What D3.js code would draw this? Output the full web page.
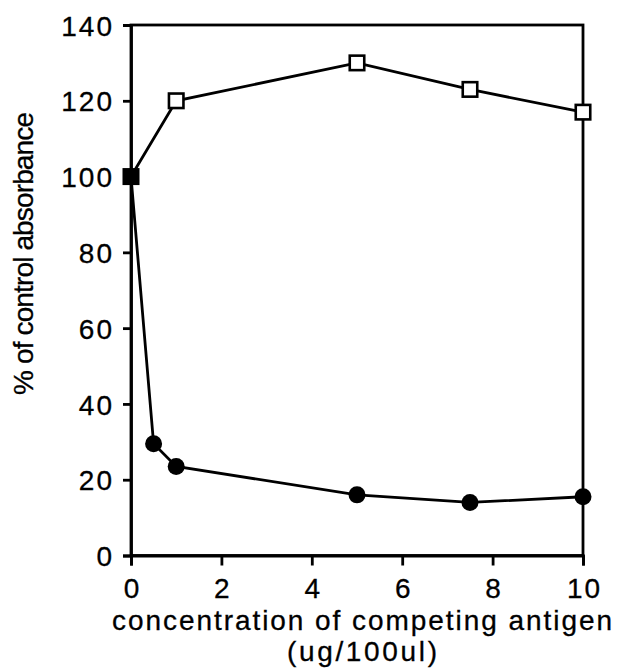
<!DOCTYPE html>
<html>
<head>
<meta charset="utf-8">
<script src="https://cdn.jsdelivr.net/npm/d3@7"></script>
<style>
  html, body { margin: 0; padding: 0; background: #fff; }
  svg text { font-family: "Liberation Sans", Arial, sans-serif; fill: #000; stroke: #000; stroke-width: 0.3px; }
</style>
</head>
<body>
<svg id="chart" width="627" height="668"></svg>
<script>
// Competition assay: percent of control absorbance vs. antigen concentration
const xTicks = [0, 2, 4, 6, 8, 10];
const yTicks = [0, 20, 40, 60, 80, 100, 120, 140];

// Open squares
const openX = [0, 1, 5, 7.5, 10];
const openY = [100, 120, 130, 123, 117];

// Filled circles (starting from the shared control point)
const filledX = [0, 0.5, 1, 5, 7.5, 10];
const filledY = [100, 29.5, 23.5, 16, 14, 15.5];

const xLabel = "concentration of competing antigen";
const xLabel2 = "(ug/100ul)";
const yLabel = "% of control absorbance";

(function () {
  const svg = d3.select("#chart");
  const mLeft = 131, mRight = 583, mTop = 25, mBottom = 555.5;
  const fontSize = 28;
  const family = "'Liberation Sans', Arial, sans-serif";

  const x = d3.scaleLinear().domain([0, 10]).range([mLeft, mRight]);
  const y = d3.scaleLinear().domain([0, 140]).range([mBottom, mTop]);

  const stroke = "#000";
  const lw = 2.8;

  // Frame
  svg.append("rect")
    .attr("x", mLeft).attr("y", mTop)
    .attr("width", mRight - mLeft).attr("height", mBottom - mTop)
    .attr("fill", "none").attr("stroke", stroke).attr("stroke-width", lw);

  // Axes
  const xAxis = svg.append("g")
    .attr("transform", `translate(0,${mBottom})`)
    .call(d3.axisBottom(x).tickValues(xTicks).tickSize(10).tickPadding(0).tickFormat(d3.format("d")));
  const yAxis = svg.append("g")
    .attr("transform", `translate(${mLeft},0)`)
    .call(d3.axisLeft(y).tickValues(yTicks).tickSize(8).tickPadding(9).tickFormat(d3.format("d")));

  [xAxis, yAxis].forEach(g => {
    g.select(".domain").attr("stroke", stroke).attr("stroke-width", lw);
    g.selectAll(".tick line").attr("stroke", stroke).attr("stroke-width", lw);
    g.selectAll(".tick text").attr("font-size", fontSize).attr("fill", "#000")
      .attr("letter-spacing", 2)
      .style("font-family", family);
  });
  // x tick labels: baseline just below the ticks
  xAxis.selectAll(".tick text").attr("dy", null).attr("y", 42).attr("dx", 1);
  yAxis.selectAll(".tick text").attr("dy", "0.36em");

  // Axis titles
  svg.append("text")
    .attr("x", 362).attr("y", 630)
    .attr("text-anchor", "middle").attr("font-size", fontSize)
    .attr("textLength", 500).attr("lengthAdjust", "spacing")
    .text(xLabel);
  svg.append("text")
    .attr("x", 362).attr("y", 661)
    .attr("text-anchor", "middle").attr("font-size", fontSize)
    .attr("textLength", 150).attr("lengthAdjust", "spacing")
    .text(xLabel2);
  svg.append("text")
    .attr("transform", `translate(33,253.5) rotate(-90)`)
    .attr("text-anchor", "middle").attr("font-size", fontSize)
    .attr("textLength", 283).attr("lengthAdjust", "spacing")
    .text(yLabel);

  const line = d3.line().x(d => x(d[0])).y(d => y(d[1]));
  const openData = openX.map((v, i) => [v, openY[i]]);
  const filledData = filledX.map((v, i) => [v, filledY[i]]);

  svg.append("path").datum(openData).attr("d", line)
    .attr("fill", "none").attr("stroke", stroke).attr("stroke-width", lw);
  svg.append("path").datum(filledData).attr("d", line)
    .attr("fill", "none").attr("stroke", stroke).attr("stroke-width", lw);

  // Open square markers
  const sq = 14.5;
  svg.selectAll(".open").data(openData.slice(1)).enter().append("rect")
    .attr("x", d => x(d[0]) - sq / 2).attr("y", d => y(d[1]) - sq / 2)
    .attr("width", sq).attr("height", sq)
    .attr("fill", "#fff").attr("stroke", stroke).attr("stroke-width", 2.6);

  // Filled circle markers
  svg.selectAll(".filled").data(filledData.slice(1)).enter().append("circle")
    .attr("cx", d => x(d[0])).attr("cy", d => y(d[1])).attr("r", 8.5)
    .attr("fill", "#000");

  // Shared control point as a filled square
  svg.append("rect").datum(filledData[0])
    .attr("x", d => x(d[0]) - 8.5).attr("y", d => y(d[1]) - 8.5)
    .attr("width", 17).attr("height", 17).attr("fill", "#000");
})();
</script>
</body>
</html>
